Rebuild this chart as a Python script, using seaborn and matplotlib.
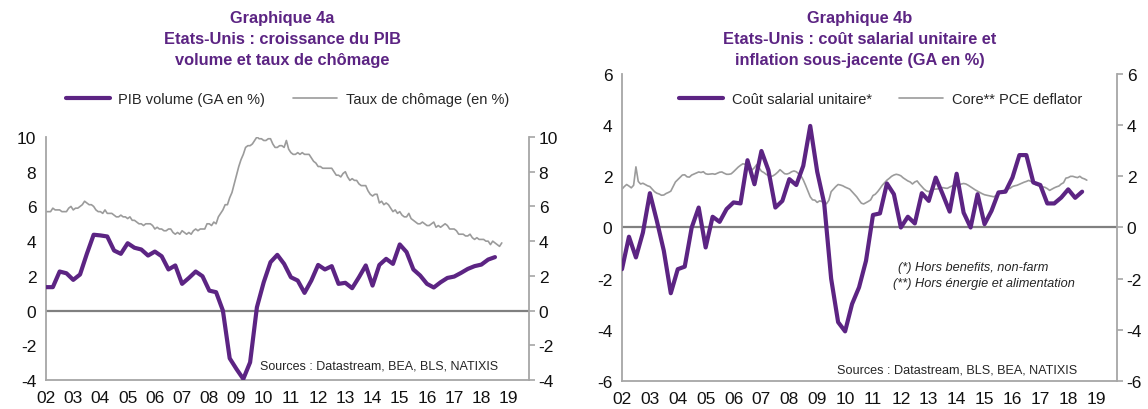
import numpy as np
import pandas as pd
import matplotlib
matplotlib.use("Agg")
import matplotlib.pyplot as plt
import seaborn as sns

PURPLE = "#5c2483"
GREY = "#9b9b9b"
AXIS = "#a6a6a6"

# ── Graphique 4a ───────────────────────────────────
# PIB volume, GA en %, trimestriel 2002T1 -> 2018T3
gdp = [1.35, 1.35, 2.25, 2.15, 1.77, 2.08, 3.27, 4.37,
       4.33, 4.27, 3.46, 3.27, 3.88, 3.62, 3.52, 3.17,
       3.40, 3.13, 2.37, 2.60, 1.54, 1.88, 2.25, 1.98,
       1.15, 1.06, 0.00, -2.75, -3.37, -3.94, -2.98, 0.19,
       1.63, 2.79, 3.21, 2.69, 1.92, 1.73, 1.02, 1.73,
       2.63, 2.37, 2.56, 1.54, 1.60, 1.29, 1.92, 2.60,
       1.44, 2.63, 2.98, 2.69, 3.81, 3.37, 2.37, 2.02,
       1.54, 1.33, 1.63, 1.88, 1.96, 2.17, 2.40, 2.56,
       2.65, 2.94, 3.08]

# Taux de chômage (en %), mensuel jan 2002 -> oct 2018
unemp = [5.7, 5.7, 5.7, 5.9, 5.8, 5.8, 5.8, 5.7, 5.7, 5.7, 5.9, 6.0,
         5.8, 5.9, 5.9, 6.0, 6.1, 6.3, 6.2, 6.1, 6.1, 6.0, 5.8, 5.7,
         5.7, 5.6, 5.8, 5.6, 5.6, 5.6, 5.5, 5.4, 5.4, 5.5, 5.4, 5.4,
         5.3, 5.4, 5.2, 5.2, 5.1, 5.0, 5.0, 4.9, 5.0, 5.0, 5.0, 4.9,
         4.7, 4.8, 4.7, 4.7, 4.6, 4.6, 4.7, 4.7, 4.5, 4.4, 4.5, 4.4,
         4.6, 4.5, 4.4, 4.5, 4.4, 4.6, 4.7, 4.6, 4.7, 4.7, 4.7, 5.0,
         5.0, 4.9, 5.1, 5.0, 5.4, 5.6, 5.8, 6.1, 6.1, 6.5, 6.8, 7.3,
         7.8, 8.3, 8.7, 9.0, 9.4, 9.5, 9.5, 9.6, 9.8, 10.0, 9.9, 9.9,
         9.8, 9.8, 9.9, 9.9, 9.6, 9.4, 9.4, 9.5, 9.5, 9.4, 9.8, 9.3,
         9.1, 9.0, 9.0, 9.1, 9.0, 9.1, 9.0, 9.0, 9.0, 8.8, 8.6, 8.5,
         8.3, 8.3, 8.2, 8.2, 8.2, 8.2, 8.2, 8.0, 7.8, 7.8, 7.7, 7.9,
         8.0, 7.7, 7.5, 7.6, 7.5, 7.5, 7.3, 7.2, 7.2, 7.2, 6.9, 6.7,
         6.6, 6.7, 6.7, 6.2, 6.3, 6.1, 6.2, 6.1, 5.9, 5.7, 5.8, 5.6,
         5.7, 5.5, 5.4, 5.4, 5.6, 5.3, 5.2, 5.1, 5.0, 5.0, 5.1, 5.0,
         4.9, 4.9, 5.0, 5.1, 4.8, 4.9, 4.8, 4.9, 5.0, 4.9, 4.7, 4.7,
         4.7, 4.6, 4.4, 4.4, 4.4, 4.3, 4.3, 4.4, 4.2, 4.1, 4.2, 4.1,
         4.1, 4.1, 4.0, 4.0, 3.8, 4.0, 3.9, 3.8, 3.7, 3.9]

# ── Graphique 4b ───────────────────────────────────
# Coût salarial unitaire, GA en %, trimestriel 2002T1 -> 2018T3
ulc = [-1.63, -0.36, -1.17, -0.20, 1.34, 0.26, -0.91, -2.57,
       -1.63, -1.53, 0.00, 0.78, -0.78, 0.42, 0.22, 0.72,
       0.98, 0.94, 2.63, 1.69, 2.99, 2.24, 0.78, 1.04,
       1.89, 1.66, 2.41, 3.97, 2.18, 0.95, -2.00, -3.70,
       -4.06, -2.99, -2.34, -1.30, 0.49, 0.55, 1.72, 1.30,
       0.00, 0.42, 0.16, 1.34, 1.04, 1.95, 1.30, 0.62,
       2.10, 0.58, 0.00, 1.30, 0.13, 0.65, 1.37, 1.40,
       1.95, 2.83, 2.83, 1.76, 1.66, 0.94, 0.94, 1.17,
       1.49, 1.16, 1.40]

# Core PCE deflator, GA en %, mensuel jan 2002 -> sep 2018
core_pce = [1.50, 1.60, 1.68, 1.62, 1.55, 1.65, 2.37, 1.80, 1.70, 1.73, 1.68, 1.63,
            1.60, 1.50, 1.40, 1.34, 1.31, 1.26, 1.27, 1.33, 1.37, 1.42, 1.60, 1.78,
            1.87, 1.96, 2.05, 2.06, 1.98, 1.97, 2.05, 2.09, 2.13, 2.17, 2.15, 2.18,
            2.10, 2.08, 2.09, 2.10, 2.08, 2.12, 2.16, 2.17, 2.12, 2.08, 2.08, 2.10,
            2.18, 2.27, 2.36, 2.43, 2.49, 2.47, 2.42, 2.33, 2.25, 2.34, 2.46, 2.33,
            2.20, 2.15, 2.08, 2.03, 1.99, 2.02, 2.08, 2.16, 2.26, 2.18, 2.10, 2.09,
            2.12, 2.18, 2.21, 2.18, 2.10, 2.02, 1.86, 1.65, 1.42, 1.20, 1.08, 1.07,
            0.98, 1.04, 1.02, 0.92, 0.93, 1.06, 1.40, 1.50, 1.60, 1.68, 1.66, 1.63,
            1.58, 1.54, 1.50, 1.40, 1.30, 1.20, 1.07, 0.95, 0.92, 0.97, 1.02, 1.08,
            1.25, 1.30, 1.40, 1.52, 1.65, 1.75, 1.85, 1.92, 2.00, 2.05, 2.08, 2.06,
            2.02, 1.94, 1.88, 1.82, 1.78, 1.70, 1.78, 1.82, 1.70, 1.60, 1.50, 1.43,
            1.40, 1.45, 1.50, 1.50, 1.51, 1.53, 1.56, 1.54, 1.53, 1.58, 1.62, 1.66,
            1.63, 1.66, 1.70, 1.72, 1.70, 1.65, 1.59, 1.53, 1.47, 1.42, 1.37, 1.32,
            1.28, 1.26, 1.24, 1.22, 1.20, 1.25, 1.32, 1.40, 1.43, 1.47, 1.51, 1.53,
            1.60, 1.63, 1.65, 1.69, 1.73, 1.77, 1.80, 1.84, 1.80, 1.73, 1.67, 1.64,
            1.62, 1.59, 1.57, 1.52, 1.45, 1.50, 1.55, 1.59, 1.62, 1.70, 1.75, 1.93,
            1.95, 2.00, 2.00, 1.97, 1.95, 2.00, 1.93, 1.90, 1.85]

years = list(range(2002, 2020))
year_labels = [f"{y % 100:02d}" for y in years]


def quarterly(values):
    p = pd.period_range("2002Q1", periods=len(values), freq="Q")
    return pd.DataFrame({"t": p.year + (p.quarter - 1) / 4, "v": values})


def monthly(values):
    p = pd.period_range("2002-01", periods=len(values), freq="M")
    return pd.DataFrame({"t": p.year + (p.month - 1) / 12, "v": values})


def style_axis(ax, ylim, yticks):
    ax.set_xlim(2002, 2019.75)
    ax.set_ylim(*ylim)
    ax.set_xticks(years)
    ax.set_xticklabels(year_labels)
    ax.set_yticks(yticks)
    ax.axhline(0, color="#808080", lw=1.6, zorder=1)
    ax.spines["top"].set_visible(False)
    for s in ["left", "right", "bottom"]:
        ax.spines[s].set_visible(True)
        ax.spines[s].set_color(AXIS)
        ax.spines[s].set_linewidth(1.3)
    ax.tick_params(axis="both", direction="out", length=4, width=1.2,
                   color=AXIS, labelsize=12.5, labelcolor="#111111", pad=3)
    ax.tick_params(axis="y", right=True, labelright=True)
    ax.set_xlabel("")
    ax.set_ylabel("")


sns.set_style("white")
plt.rcParams["font.family"] = ["Liberation Sans", "DejaVu Sans"]
plt.rcParams["axes.unicode_minus"] = False

fig = plt.figure(figsize=(11.48, 4.10), dpi=100)
ax1 = fig.add_axes([0.0401, 0.0707, 0.4207, 0.5927])
ax2 = fig.add_axes([0.5418, 0.0683, 0.4312, 0.7488])

# ── 4a ──
df_gdp = quarterly(gdp)
df_u = monthly(unemp)
sns.lineplot(data=df_gdp, x="t", y="v", ax=ax1, color=PURPLE, lw=3.0,
             label="PIB volume (GA en %)", zorder=3)
sns.lineplot(data=df_u, x="t", y="v", ax=ax1, color=GREY, lw=1.2,
             label="Taux de chômage (en %)", zorder=2)
style_axis(ax1, (-4, 10), range(-4, 11, 2))
ax1.legend(loc="center left", bbox_to_anchor=(66 / 1148, 1 - 100 / 410),
           bbox_transform=fig.transFigure, ncol=2, frameon=False,
           handlelength=3.0, handletextpad=0.6, columnspacing=1.9,
           borderpad=0, borderaxespad=0, fontsize=10.5)
ax1.text(0.936, 0.06, "Sources : Datastream, BEA, BLS, NATIXIS",
         transform=ax1.transAxes, ha="right", va="center", fontsize=9.0)

# ── 4b ──
df_ulc = quarterly(ulc)
df_pce = monthly(core_pce)
sns.lineplot(data=df_ulc, x="t", y="v", ax=ax2, color=PURPLE, lw=3.0,
             label="Coût salarial unitaire*", zorder=3)
sns.lineplot(data=df_pce, x="t", y="v", ax=ax2, color=GREY, lw=1.2,
             label="Core** PCE deflator", zorder=2)
style_axis(ax2, (-6, 6), range(-6, 7, 2))
ax2.legend(loc="center left", bbox_to_anchor=(679 / 1148, 1 - 100 / 410),
           bbox_transform=fig.transFigure, ncol=2, frameon=False,
           handlelength=3.0, handletextpad=0.6, columnspacing=1.9,
           borderpad=0, borderaxespad=0, fontsize=10.5)
ax2.text(0.919, 0.039, "Sources : Datastream, BLS, BEA, NATIXIS",
         transform=ax2.transAxes, ha="right", va="center", fontsize=9.1)
fig.text(898 / 1148, 1 - 268 / 410, "(*) Hors benefits, non-farm",
         ha="left", va="center", fontsize=9.2, style="italic")
fig.text(893 / 1148, 1 - 284 / 410, "(**) Hors énergie et alimentation",
         ha="left", va="center", fontsize=9.2, style="italic")

# ── titres ──
title_kw = dict(ha="center", va="top", fontweight="bold", color=PURPLE,
                fontsize=11.8, linespacing=1.52)
fig.text(282 / 1148, 1 - 11 / 410,
         "Graphique 4a\nEtats-Unis : croissance du PIB\nvolume et taux de chômage",
         **title_kw)
fig.text(860 / 1148, 1 - 11 / 410,
         "Graphique 4b\nEtats-Unis : coût salarial unitaire et\ninflation sous-jacente (GA en %)",
         **title_kw)

plt.savefig("out.png", dpi=100)
plt.close()
